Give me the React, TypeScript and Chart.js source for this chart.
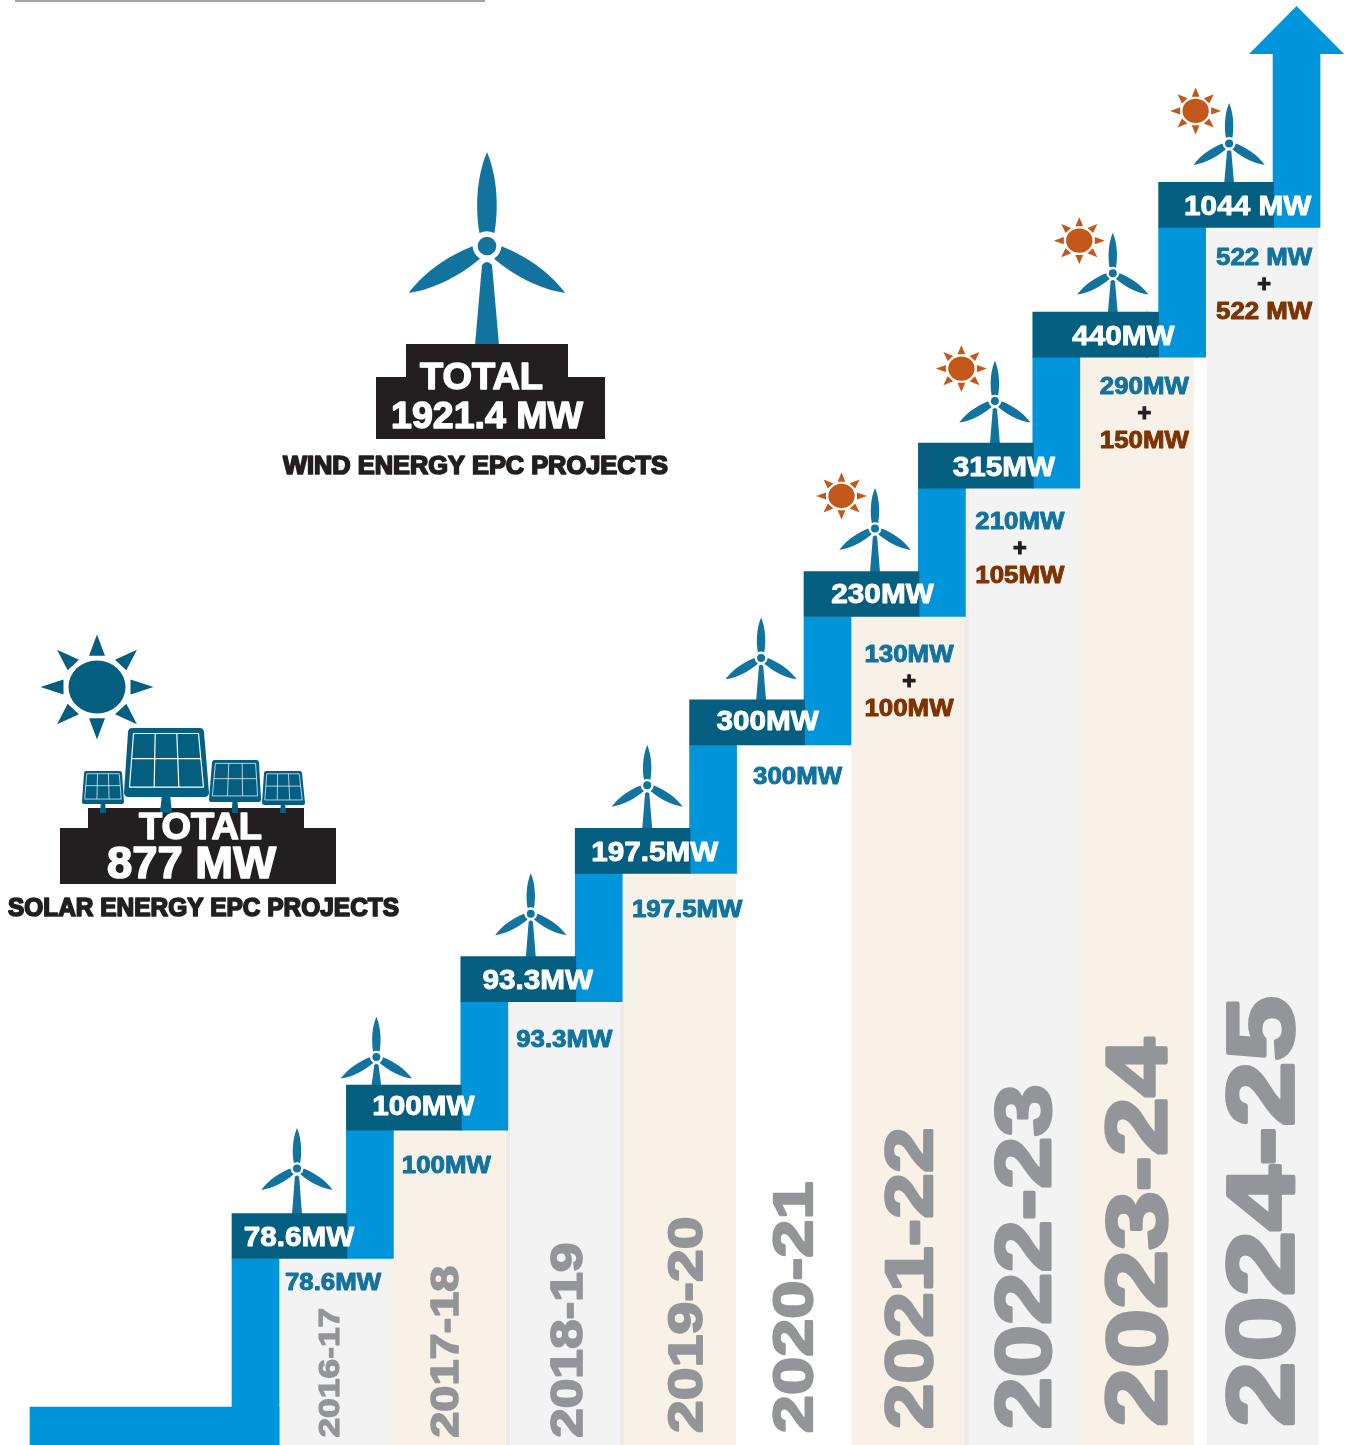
import React, { useEffect, useRef } from "react";
import { Chart, registerables } from "chart.js";

Chart.register(...registerables);

// ---------- data ----------
const categories = ["2016-17", "2017-18", "2018-19", "2019-20", "2020-21", "2021-22", "2022-23", "2023-24", "2024-25"];
const windMW = [78.6, 100, 93.3, 197.5, 300, 130, 210, 290, 522];
const solarMW = [0, 0, 0, 0, 0, 100, 105, 150, 522];
const stepLevels = [1, 2, 3, 4, 5, 6, 7, 8.02, 9.03];
const stepSlots = [0, 1, 2, 3, 4, 5, 6, 7, 8.1];
const windTotal = "1921.4 MW";
const solarTotal = "877 MW";
const totalWord = "TOTAL";
const windCaption = "WIND ENERGY EPC PROJECTS";
const solarCaption = "SOLAR ENERGY EPC PROJECTS";

// ---------- layout / style ----------
const W = 1354;
const H = 1445;
const FIRST_STEP_X = 232;
const SLOT_PX = 114.4;
const FIRST_LEVEL_Y = 1213.5;
const LEVEL_PX = 128.4;
const pxToSlot = (px: number) => (px - FIRST_STEP_X) / SLOT_PX;
const pxToLevel = (py: number) => 1 + (FIRST_LEVEL_Y - py) / LEVEL_PX;
const BOX_H = 45 / LEVEL_PX;
const RISER_W = 47;
const BOX_W = 115;
const COL_W = 114;
const LAST_COL_W = 111;
const COL_DX = [101.5, 101.6, 104.2, 103.8, 104.4, 104.5, 105.1, 104.2, 103.9];
const SEAM_COLS = [2, 3, 6];
const SEAM_W = 3.5;

const BLUE = "#0095da";
const DARK = "#035e80";
const TEAL = "#12739f";
const BROWN = "#7f3300";
const INK = "#231f20";
const GREY = "#939598";
const ORANGE = "#c4581a";
const SEAM = "#eeebe5";
const COL_COLORS = ["#f3f3f4", "#f7f1e7", "#f3f3f4", "#f7f1e7", "#ffffff", "#f7f1e7", "#f3f3f4", "#f7f1e7", "#f3f3f4"];

const FONT = '"Liberation Sans"';
const BOX_LABEL_DX = [67, 77, 77, 79.5, 78, 78.5, 85.5, 90.5, 89];
const BOX_LABEL_DY = [32.5, 30, 32.5, 33, 30.5, 31.5, 32.5, 32.5, 32.5];
const SUB_LABEL_DX = [101, 100, 103.5, 112, 108, 105, 101.5, 111.5, 105.5];
const SUB_LABEL_DY = [31.5, 42.5, 45.5, 44, 39, 45.5, 41, 37, 38];
const TURBINE_DX = [65, 30, 70, 72, 71.5, 71, 76.5, 80, 70.5];
const TURBINE_DY = [45, 28, 43, 43, 42, 43, 42, 39, 39];
// [left, right, bottom, top] of the rotated year texts
const YEAR_BOX = [
  [317, 340, 1437, 1308], [429, 459, 1437, 1266], [549, 583, 1437, 1243],
  [666, 703, 1432, 1217], [770, 814, 1432, 1182], [882, 934, 1428, 1128],
  [992, 1052, 1428, 1085], [1103, 1169, 1425, 1039], [1222, 1296, 1425, 997],
];

type Ctx = CanvasRenderingContext2D;

function textSpan(ctx: Ctx, text: string, left: number, right: number, base: number, size: number, color: string, stroke = 1) {
  ctx.save();
  ctx.font = `bold ${size}px ${FONT}`;
  const w = ctx.measureText(text).width;
  ctx.translate(left, base);
  ctx.scale((right - left) / w, 1);
  ctx.textAlign = "left";
  ctx.textBaseline = "alphabetic";
  ctx.fillStyle = color;
  ctx.strokeStyle = color;
  ctx.lineWidth = stroke;
  ctx.lineJoin = "round";
  ctx.fillText(text, 0, 0);
  if (stroke > 0) ctx.strokeText(text, 0, 0);
  ctx.restore();
}

function textCentered(ctx: Ctx, text: string, cx: number, base: number, size: number, color: string, sx = 1.1, stroke = 0.95) {
  ctx.save();
  ctx.font = `bold ${size}px ${FONT}`;
  ctx.translate(cx, base);
  ctx.scale(sx, 1);
  ctx.textAlign = "center";
  ctx.textBaseline = "alphabetic";
  ctx.fillStyle = color;
  ctx.strokeStyle = color;
  ctx.lineWidth = stroke;
  ctx.lineJoin = "round";
  ctx.fillText(text, 0, 0);
  if (stroke > 0) ctx.strokeText(text, 0, 0);
  ctx.restore();
}

function yearLabel(ctx: Ctx, text: string, box: number[]) {
  const [l, r, bottom, top] = box;
  const strokeShare = 0.04;
  const size = (r - l) / (0.74 + strokeShare);
  const stroke = size * strokeShare;
  ctx.save();
  ctx.font = `bold ${size}px ${FONT}`;
  const w = ctx.measureText(text).width;
  ctx.translate(r - stroke / 2 - size * 0.01, bottom + size * 0.02);
  ctx.rotate(-Math.PI / 2);
  ctx.scale((bottom - top + size * 0.03) / w, 1);
  ctx.fillStyle = GREY;
  ctx.strokeStyle = GREY;
  ctx.lineWidth = stroke;
  ctx.lineJoin = "round";
  ctx.fillText(text, 0, 0);
  ctx.strokeText(text, 0, 0);
  ctx.restore();
}

function blade(ctx: Ctx) {
  ctx.beginPath();
  ctx.moveTo(-7.5, -13);
  ctx.bezierCurveTo(-11.5, -36, -11, -68, 0, -94);
  ctx.bezierCurveTo(11, -68, 11.5, -36, 7.5, -13);
  ctx.quadraticCurveTo(0, -16.5, -7.5, -13);
  ctx.closePath();
  ctx.fill();
}

function turbine(ctx: Ctx, cx: number, cy: number, scale: number, towerLen: number, sideScale: number) {
  ctx.save();
  ctx.translate(cx, cy);
  ctx.scale(scale, scale);
  ctx.fillStyle = TEAL;
  blade(ctx);
  for (const a of [121, 239]) {
    ctx.save();
    ctx.rotate((a * Math.PI) / 180);
    ctx.scale(sideScale, sideScale);
    blade(ctx);
    ctx.restore();
  }
  ctx.beginPath();
  ctx.arc(0, 0, 9.3, 0, Math.PI * 2);
  ctx.fill();
  const len = towerLen / scale;
  ctx.beginPath();
  ctx.moveTo(-5, 19);
  ctx.quadraticCurveTo(0, 13, 5, 19);
  ctx.lineTo(12, len);
  ctx.lineTo(-12, len);
  ctx.closePath();
  ctx.fill();
  ctx.restore();
}

function sun(ctx: Ctx, cx: number, cy: number, rx: number, tip: number, base: number, half: number, squash: number, color: string) {
  ctx.save();
  ctx.translate(cx, cy);
  ctx.scale(1, squash);
  ctx.fillStyle = color;
  ctx.beginPath();
  ctx.arc(0, 0, rx, 0, Math.PI * 2);
  ctx.fill();
  for (let k = 0; k < 8; k++) {
    ctx.save();
    ctx.rotate((k * Math.PI) / 4);
    ctx.beginPath();
    ctx.moveTo(0, -tip);
    ctx.lineTo(half, -base);
    ctx.lineTo(-half, -base);
    ctx.closePath();
    ctx.fill();
    ctx.restore();
  }
  ctx.restore();
}

function solarPanel(ctx: Ctx, lb: number, rb: number, lt: number, rt: number, top: number, bottom: number, stemX: number, stemW: number, stemBottom: number) {
  ctx.save();
  ctx.fillStyle = DARK;
  ctx.strokeStyle = DARK;
  ctx.lineJoin = "round";
  const r = (rb - lb) * 0.05;
  ctx.beginPath();
  ctx.moveTo(stemX - stemW * 0.35, bottom - 1);
  ctx.lineTo(stemX + stemW * 0.35, bottom - 1);
  ctx.lineTo(stemX + stemW / 2, stemBottom);
  ctx.lineTo(stemX - stemW / 2, stemBottom);
  ctx.closePath();
  ctx.fill();
  ctx.lineWidth = r * 2;
  ctx.beginPath();
  ctx.moveTo(lt + r, top + r);
  ctx.lineTo(rt - r, top + r);
  ctx.lineTo(rb - r, bottom - r);
  ctx.lineTo(lb + r, bottom - r);
  ctx.closePath();
  ctx.fill();
  ctx.stroke();
  const lw = Math.max(0.7, (rb - lb) * 0.014);
  const ins = (rb - lb) * 0.065;
  const tl = lt + ins, tr = rt - ins, bl = lb + ins, br = rb - ins;
  const ty = top + ins, by = bottom - ins * 1.8;
  ctx.strokeStyle = "#ffffff";
  ctx.lineWidth = lw;
  ctx.beginPath();
  ctx.moveTo(tl, ty);
  ctx.lineTo(tr, ty);
  ctx.lineTo(br, by);
  ctx.lineTo(bl, by);
  ctx.closePath();
  const mid = 0.47;
  ctx.moveTo(tl + (bl - tl) * mid, ty + (by - ty) * mid);
  ctx.lineTo(tr + (br - tr) * mid, ty + (by - ty) * mid);
  for (const f of [1 / 3, 2 / 3]) {
    ctx.moveTo(tl + (tr - tl) * f, ty);
    ctx.lineTo(bl + (br - bl) * f, by);
  }
  ctx.stroke();
  ctx.restore();
}

const decorBehind = {
  id: "decorBehind",
  beforeDatasetsDraw(chart: any) {
    const ctx: Ctx = chart.ctx;
    const { x, y } = chart.scales;
    categories.forEach((_, i) => {
      const bx = x.getPixelForValue(stepSlots[i]);
      const by = y.getPixelForValue(stepLevels[i]);
      const hx = bx + TURBINE_DX[i];
      const hy = by - TURBINE_DY[i];
      turbine(ctx, hx, hy, 0.43, TURBINE_DY[i] + 3, 1.03);
      if (solarMW[i] > 0) sun(ctx, hx - 33.5, hy - 32.5, 13.2, 25.5, 15.5, 3.9, 0.92, ORANGE);
    });
  },
};

const decorFront = {
  id: "decorFront",
  afterDatasetsDraw(chart: any) {
    const ctx: Ctx = chart.ctx;
    const { x, y } = chart.scales;

    ctx.fillStyle = "#a3a3a3";
    ctx.fillRect(15, 0, 470, 2);

    const shaftX = x.getPixelForValue(stepSlots[stepSlots.length - 1] + 1) + RISER_W / 2;
    ctx.fillStyle = BLUE;
    ctx.beginPath();
    ctx.moveTo(shaftX, y.getPixelForValue(ARROW_TIP_LEVEL));
    ctx.lineTo(shaftX + 47.5, y.getPixelForValue(ARROW_BASE_LEVEL));
    ctx.lineTo(shaftX - 47.5, y.getPixelForValue(ARROW_BASE_LEVEL));
    ctx.closePath();
    ctx.fill();

    categories.forEach((c, i) => yearLabel(ctx, c, YEAR_BOX[i]));

    categories.forEach((_, i) => {
      const bx = x.getPixelForValue(stepSlots[i]);
      const by = y.getPixelForValue(stepLevels[i]);
      const last = i === categories.length - 1;
      const unit = last ? " MW" : "MW";
      const total = +(windMW[i] + solarMW[i]).toFixed(1);
      textCentered(ctx, `${total}${unit}`, bx + BOX_LABEL_DX[i], by + BOX_LABEL_DY[i], 27, "#ffffff");
      const cx = bx + SUB_LABEL_DX[i];
      const top = by + 45 + SUB_LABEL_DY[i];
      textCentered(ctx, `${windMW[i]}${unit}`, cx, top, 23.5, TEAL);
      if (solarMW[i] > 0) {
        textCentered(ctx, "+", cx, top + 27, 23.5, INK, 1, 1.2);
        textCentered(ctx, `${solarMW[i]}${unit}`, cx, top + 54, 23.5, BROWN);
      }
    });

    turbine(ctx, 487, 246, 1, 99, 0.97);
    ctx.fillStyle = INK;
    ctx.fillRect(406, 344, 162, 34);
    ctx.fillRect(376, 377, 229, 62);
    textSpan(ctx, totalWord, 420, 543, 389, 36, "#ffffff", 1.4);
    textSpan(ctx, windTotal, 391, 583, 428, 36, "#ffffff", 1.4);
    textSpan(ctx, windCaption, 283, 668, 474, 25, INK, 1.7);

    sun(ctx, 97, 687, 28.5, 56.5, 33.5, 8, 0.93, DARK);
    solarPanel(ctx, 82, 124, 84, 122, 771, 804, 103, 6, 813);
    solarPanel(ctx, 209, 261, 212, 259, 760, 802, 235, 7, 813);
    solarPanel(ctx, 262, 305, 264, 302, 771, 805, 283, 6, 813);
    solarPanel(ctx, 124, 209, 128, 204, 728, 797, 166, 12, 813);
    ctx.fillStyle = INK;
    ctx.fillRect(88, 808, 216, 21);
    ctx.fillRect(60, 828, 276, 56);
    ctx.fillStyle = DARK;
    ctx.fillRect(100, 808, 6, 5);
    ctx.fillRect(160, 808, 12, 5);
    ctx.fillRect(232, 808, 6, 5);
    ctx.fillRect(280, 808, 6, 5);
    textSpan(ctx, totalWord, 139, 262, 839, 36, "#ffffff", 1.4);
    textSpan(ctx, solarTotal, 107, 276, 878, 45, "#ffffff", 1.6);
    textSpan(ctx, solarCaption, 8, 399, 915.5, 25, INK, 1.7);
  },
};

const ARROW_TIP_LEVEL = pxToLevel(6);
const ARROW_BASE_LEVEL = pxToLevel(54);
const BOTTOM_LEVEL = pxToLevel(H);
const BASE_TOP_LEVEL = pxToLevel(1407);

export default function App() {
  const ref = useRef<HTMLCanvasElement>(null);
  useEffect(() => {
    document.body.style.margin = "0";
    const lastIdx = categories.length - 1;
    const columnBar = (i: number) => ({
      x: stepSlots[i] + COL_DX[i] / SLOT_PX,
      y: [BOTTOM_LEVEL, stepLevels[i] - BOX_H],
    });
    const columns = categories.slice(0, lastIdx).map((_, i) => columnBar(i));
    const lastColumn = [columnBar(lastIdx)];
    const seams = SEAM_COLS.map((i) => ({
      x: stepSlots[i] + (COL_DX[i] - COL_W / 2) / SLOT_PX,
      y: [BOTTOM_LEVEL, stepLevels[i] - BOX_H],
    }));
    const riserOffset = RISER_W / 2 / SLOT_PX;
    const risers = categories.map((_, i) => ({
      x: stepSlots[i] + riserOffset,
      y: [i === 0 ? BOTTOM_LEVEL : stepLevels[i - 1] - BOX_H, stepLevels[i] - BOX_H],
    }));
    risers.push({
      x: stepSlots[lastIdx] + 1 + riserOffset,
      y: [stepLevels[lastIdx] - BOX_H, ARROW_BASE_LEVEL],
    });
    const boxes = categories.map((_, i) => ({
      x: stepSlots[i] + BOX_W / 2 / SLOT_PX,
      y: [stepLevels[i] - BOX_H, stepLevels[i]],
    }));
    // the dark step before the last one runs on up to the wider last slot
    const fillerStart = stepSlots[lastIdx - 1] + (BOX_W - 2) / SLOT_PX;
    const fillerW = (stepSlots[lastIdx] - fillerStart) * SLOT_PX;
    const filler = [{
      x: fillerStart + fillerW / 2 / SLOT_PX,
      y: [stepLevels[lastIdx - 1] - BOX_H, stepLevels[lastIdx - 1]],
    }];
    const base = [{ x: pxToSlot((30 + 279) / 2), y: [BOTTOM_LEVEL, BASE_TOP_LEVEL] }];
    const common = { grouped: false, categoryPercentage: 1, barPercentage: 1, borderWidth: 0 };
    const chart = new Chart(ref.current as HTMLCanvasElement, {
      type: "bar",
      data: {
        datasets: [
          { ...common, label: "columns", data: columns, backgroundColor: COL_COLORS, barThickness: COL_W, order: 7 },
          { ...common, label: "last column", data: lastColumn, backgroundColor: COL_COLORS[lastIdx], barThickness: LAST_COL_W, order: 6 },
          { ...common, label: "seams", data: seams, backgroundColor: SEAM, barThickness: SEAM_W, order: 5 },
          { ...common, label: "base", data: base, backgroundColor: BLUE, barThickness: 249, order: 4 },
          { ...common, label: "risers", data: risers, backgroundColor: BLUE, barThickness: RISER_W, order: 3 },
          { ...common, label: "steps", data: boxes, backgroundColor: DARK, barThickness: BOX_W, order: 2 },
          { ...common, label: "step filler", data: filler, backgroundColor: DARK, barThickness: fillerW, order: 1 },
        ] as any,
      },
      options: {
        animation: false,
        responsive: false,
        maintainAspectRatio: false,
        events: [],
        layout: { padding: 0 },
        plugins: { legend: { display: false }, tooltip: { enabled: false } },
        scales: {
          x: { type: "linear", offset: false, display: false, min: pxToSlot(0), max: pxToSlot(W), grid: { display: false } },
          y: { type: "linear", display: false, min: BOTTOM_LEVEL, max: pxToLevel(0), grid: { display: false } },
        },
      } as any,
      plugins: [decorBehind, decorFront],
    });
    return () => chart.destroy();
  }, []);
  return <canvas ref={ref} width={W} height={H} style={{ display: "block", position: "absolute", left: 0, top: 0 }} />;
}
